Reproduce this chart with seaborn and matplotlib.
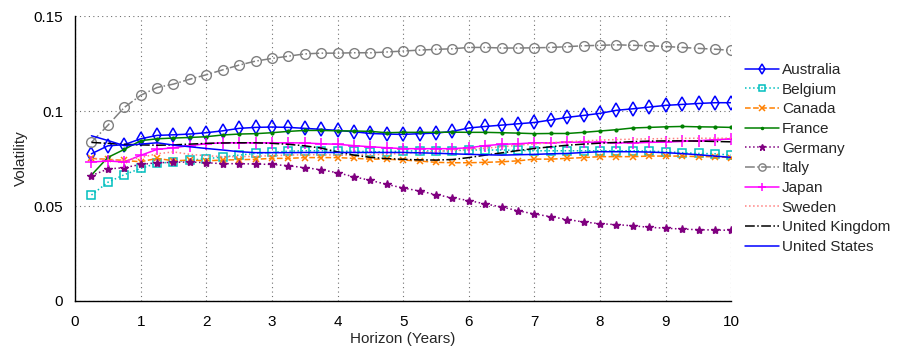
import numpy as np
import pandas as pd
import matplotlib
matplotlib.use("Agg")
import matplotlib.pyplot as plt
from matplotlib.ticker import MultipleLocator, FuncFormatter
import seaborn as sns

horizon = [0.25 * i for i in range(1, 41)]

australia = [0.0775, 0.0817, 0.0823, 0.0854, 0.0872, 0.0875, 0.0879, 0.0886, 0.0896, 0.0909,
             0.0914, 0.0916, 0.0914, 0.0909, 0.0904, 0.0898, 0.0891, 0.0882, 0.0879, 0.0877,
             0.0881, 0.0884, 0.0893, 0.0911, 0.0919, 0.0926, 0.0933, 0.0940, 0.0953, 0.0967,
             0.0977, 0.0988, 0.1004, 0.1012, 0.1021, 0.1030, 0.1035, 0.1040, 0.1044, 0.1044]
belgium = [0.0558, 0.0625, 0.0665, 0.0698, 0.0725, 0.0732, 0.0742, 0.0749, 0.0758, 0.0768,
           0.0777, 0.0782, 0.0789, 0.0791, 0.0791, 0.0788, 0.0789, 0.0786, 0.0786, 0.0789,
           0.0791, 0.0789, 0.0791, 0.0795, 0.0795, 0.0795, 0.0793, 0.0791, 0.0791, 0.0791,
           0.0791, 0.0791, 0.0791, 0.0791, 0.0789, 0.0786, 0.0781, 0.0777, 0.0775, 0.0768]
canada = [0.0751, 0.0746, 0.0740, 0.0733, 0.0751, 0.0738, 0.0742, 0.0738, 0.0742, 0.0744,
          0.0746, 0.0751, 0.0751, 0.0755, 0.0755, 0.0755, 0.0751, 0.0747, 0.0747, 0.0742,
          0.0737, 0.0730, 0.0728, 0.0728, 0.0730, 0.0733, 0.0738, 0.0747, 0.0747, 0.0751,
          0.0755, 0.0760, 0.0760, 0.0760, 0.0763, 0.0763, 0.0763, 0.0760, 0.0760, 0.0755]
france = [0.0663, 0.0756, 0.0798, 0.0844, 0.0854, 0.0858, 0.0861, 0.0865, 0.0874, 0.0879,
          0.0881, 0.0886, 0.0893, 0.0898, 0.0898, 0.0896, 0.0895, 0.0893, 0.0886, 0.0888,
          0.0888, 0.0888, 0.0889, 0.0888, 0.0888, 0.0886, 0.0884, 0.0881, 0.0882, 0.0882,
          0.0888, 0.0895, 0.0902, 0.0911, 0.0914, 0.0917, 0.0919, 0.0917, 0.0916, 0.0914]
germany = [0.0660, 0.0695, 0.0702, 0.0719, 0.0728, 0.0730, 0.0732, 0.0728, 0.0723, 0.0723,
           0.0721, 0.0719, 0.0712, 0.0702, 0.0691, 0.0675, 0.0654, 0.0635, 0.0614, 0.0595,
           0.0579, 0.0560, 0.0543, 0.0529, 0.0511, 0.0495, 0.0475, 0.0458, 0.0444, 0.0429,
           0.0416, 0.0407, 0.0402, 0.0396, 0.0388, 0.0383, 0.0379, 0.0375, 0.0374, 0.0372]
italy = [0.0835, 0.0925, 0.1019, 0.1083, 0.1124, 0.1142, 0.1168, 0.1191, 0.1217, 0.1242,
         0.1263, 0.1277, 0.1289, 0.1301, 0.1305, 0.1305, 0.1307, 0.1307, 0.1311, 0.1316,
         0.1321, 0.1325, 0.1328, 0.1335, 0.1335, 0.1332, 0.1332, 0.1333, 0.1335, 0.1339,
         0.1344, 0.1346, 0.1349, 0.1346, 0.1344, 0.1340, 0.1335, 0.1330, 0.1326, 0.1319]
japan = [0.0732, 0.0737, 0.0732, 0.0767, 0.0798, 0.0807, 0.0818, 0.0828, 0.0833, 0.0833,
         0.0833, 0.0833, 0.0833, 0.0832, 0.0828, 0.0825, 0.0818, 0.0812, 0.0807, 0.0802,
         0.0802, 0.0802, 0.0802, 0.0807, 0.0818, 0.0825, 0.0828, 0.0833, 0.0833, 0.0835,
         0.0837, 0.0835, 0.0833, 0.0832, 0.0835, 0.0837, 0.0840, 0.0844, 0.0849, 0.0854]
sweden = [0.0750, 0.0745, 0.0740, 0.0755, 0.0775, 0.0785, 0.0772, 0.0765, 0.0760, 0.0760,
          0.0762, 0.0765, 0.0768, 0.0770, 0.0770, 0.0768, 0.0768, 0.0770, 0.0772, 0.0778,
          0.0783, 0.0788, 0.0792, 0.0798, 0.0805, 0.0812, 0.0820, 0.0827, 0.0833, 0.0838,
          0.0843, 0.0847, 0.0850, 0.0852, 0.0854, 0.0855, 0.0856, 0.0857, 0.0857, 0.0857]
united_kingdom = [0.0835, 0.0830, 0.0825, 0.0822, 0.0820, 0.0822, 0.0826, 0.0830, 0.0832, 0.0833,
                  0.0833, 0.0830, 0.0825, 0.0817, 0.0805, 0.0785, 0.0768, 0.0756, 0.0750, 0.0746,
                  0.0743, 0.0742, 0.0745, 0.0755, 0.0768, 0.0780, 0.0792, 0.0803, 0.0812, 0.0820,
                  0.0826, 0.0831, 0.0835, 0.0839, 0.0842, 0.0843, 0.0843, 0.0842, 0.0840, 0.0838]
united_states = [0.0870, 0.0845, 0.0818, 0.0826, 0.0833, 0.0821, 0.0812, 0.0803, 0.0795, 0.0786,
                 0.0781, 0.0781, 0.0781, 0.0782, 0.0782, 0.0782, 0.0782, 0.0782, 0.0782, 0.0782,
                 0.0780, 0.0778, 0.0775, 0.0772, 0.0770, 0.0768, 0.0770, 0.0772, 0.0775, 0.0777,
                 0.0782, 0.0786, 0.0786, 0.0786, 0.0784, 0.0781, 0.0776, 0.0770, 0.0763, 0.0756]

countries = ["Australia", "Belgium", "Canada", "France", "Germany", "Italy",
             "Japan", "Sweden", "United Kingdom", "United States"]
series = [australia, belgium, canada, france, germany, italy,
          japan, sweden, united_kingdom, united_states]

styles = {
    "Australia": dict(color="#0000ff", ls="-", marker="d", ms=7, mfc="none", mew=1.1),
    "Belgium": dict(color="#00bfbf", ls=":", marker="s", ms=6, mfc="none", mew=1.1),
    "Canada": dict(color="#ff8000", ls="--", marker="x", ms=5, mfc="none", mew=1.1),
    "France": dict(color="#008000", ls="-", marker=".", ms=4, mfc="#008000", mew=1.0),
    "Germany": dict(color="#800080", ls=":", marker="*", ms=6, mfc="#800080", mew=1.0),
    "Italy": dict(color="#808080", ls="-.", marker="o", ms=7, mfc="none", mew=1.0),
    "Japan": dict(color="#ff00ff", ls="-", marker="+", ms=8, mfc="none", mew=1.1),
    "Sweden": dict(color="#ff7f7f", ls=":", marker=None, ms=0, mfc="none", mew=1.0),
    "United Kingdom": dict(color="#000000", ls="-.", marker=None, ms=0, mfc="none", mew=1.0),
    "United States": dict(color="#0000ff", ls="-", marker=None, ms=0, mfc="none", mew=1.0),
}

df = pd.DataFrame({"Horizon": horizon * len(countries),
                   "Volatility": [v for s in series for v in s],
                   "Country": [c for c in countries for _ in horizon]})

sns.set_style("white")
plt.rcParams["font.family"] = ["Liberation Sans", "DejaVu Sans"]

fig, ax = plt.subplots(figsize=(9.04, 3.5), dpi=100)
fig.subplots_adjust(left=0.083, right=0.809, top=0.954, bottom=0.14)

for c in countries:
    st = styles[c]
    sub = df[df["Country"] == c]
    kw = dict(color=st["color"], linestyle=st["ls"], linewidth=1.1, label=c)
    if st["marker"]:
        kw.update(marker=st["marker"], markersize=st["ms"], markerfacecolor=st["mfc"],
                  markeredgecolor=st["color"], markeredgewidth=st["mew"])
    sns.lineplot(data=sub, x="Horizon", y="Volatility", ax=ax, **kw)

ax.set_xlim(0, 10)
ax.set_ylim(0, 0.15)
ax.xaxis.set_major_locator(MultipleLocator(1))
ax.xaxis.set_minor_locator(MultipleLocator(0.1))
ax.yaxis.set_major_locator(MultipleLocator(0.05))
ax.yaxis.set_minor_locator(MultipleLocator(0.01))
ax.yaxis.set_major_formatter(FuncFormatter(lambda v, p: "%g" % round(v, 4)))
ax.tick_params(which="major", direction="out", length=5, width=1, labelsize=11, colors="black")
ax.tick_params(which="minor", direction="out", length=2.5, width=0.8)
ax.tick_params(axis="x", which="major", pad=5)

ax.grid(True, which="major", linestyle=(0, (1, 3)), color="#707070", linewidth=0.8)
for s in ["top", "right"]:
    ax.spines[s].set_visible(False)
for s in ["left", "bottom"]:
    ax.spines[s].set_color("black")
    ax.spines[s].set_linewidth(1.0)

ax.set_xlabel("Horizon (Years)", fontsize=11, labelpad=2)
ax.set_ylabel("Volatility", fontsize=11, labelpad=4)

ax.legend(loc="center left", bbox_to_anchor=(1.0, 0.5), frameon=False, fontsize=11,
          handlelength=2.2, handletextpad=0.2, labelspacing=0.37, borderaxespad=0.5,
          markerscale=0.75)

fig.savefig("out.png", dpi=100)
